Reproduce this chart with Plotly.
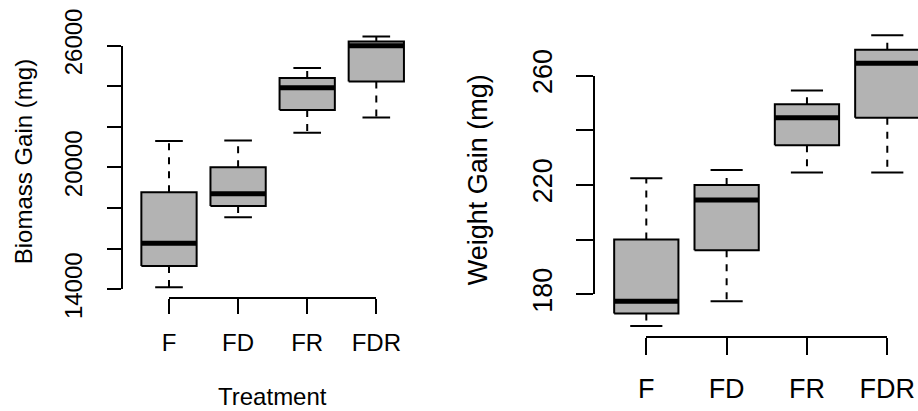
import plotly.graph_objects as go

# ---------------- data ----------------
categories = ["F", "FD", "FR", "FDR"]

biomass_lower = [14100, 17550, 21700, 22450]
biomass_q1 = [15150, 18100, 22830, 24230]
biomass_median = [16270, 18700, 23920, 25990]
biomass_q3 = [18780, 20010, 24400, 26200]
biomass_upper = [21300, 21330, 24890, 26440]

weight_lower = [168.4, 177.4, 224.5, 224.5]
weight_q1 = [172.9, 196.1, 234.5, 244.5]
weight_median = [177.4, 214.5, 244.5, 264.5]
weight_q3 = [200.0, 219.9, 249.5, 269.4]
weight_upper = [222.4, 225.4, 254.5, 274.7]

biomass_ticks = [14000, 16000, 18000, 20000, 22000, 24000, 26000]
biomass_tick_labels = ["14000", "", "", "20000", "", "", "26000"]
weight_ticks = [180, 200, 220, 240, 260]
weight_tick_labels = ["180", "", "220", "", "260"]

# ---------------- styling / geometry ----------------
W, H = 918, 411
FONT = "Liberation Sans, Arial, Helvetica, sans-serif"
BOX_FILL = "#B3B3B3"
BOX_W = 0.4   # half width of box
CAP_W = 0.2   # half width of whisker caps

panels = [
    dict(xa="x", ya="y", fx="x3", fy="y3", font=24,
         lower=biomass_lower, q1=biomass_q1, med=biomass_median, q3=biomass_q3, upper=biomass_upper,
         ticks=biomass_ticks, labels=biomass_tick_labels,
         cat0=169.0, step=69.1, left=122.3, right=423.0, top=26.5, bottom=298.0,
         lo_px=289.3, hi_px=45.5, ticklen_y=14, ticklen_x=15, standoff_y=16, standoff_x=8,
         ytitle="Biomass Gain (mg)", ytitle_x=23, xtitle="Treatment"),
    dict(xa="x2", ya="y2", fx="x4", fy="y4", font=27,
         lower=weight_lower, q1=weight_q1, med=weight_median, q3=weight_q3, upper=weight_upper,
         ticks=weight_ticks, labels=weight_tick_labels,
         cat0=646.3, step=80.33, left=593.5, right=918.0, top=23.7, bottom=337.0,
         lo_px=294.2, hi_px=75.5, ticklen_y=17, ticklen_x=17, standoff_y=13, standoff_x=11,
         ytitle="Weight Gain (mg)", ytitle_x=478, xtitle=None),
]

fig = go.Figure()
layout = dict(width=W, height=H, margin=dict(l=0, r=0, t=0, b=0, pad=0, autoexpand=False),
              paper_bgcolor="white", plot_bgcolor="rgba(0,0,0,0)",
              showlegend=False, font=dict(family=FONT, color="black"))
annotations = []

def axkey(name):
    return "xaxis" + name[1:] if name.startswith("x") else "yaxis" + name[1:]

for p in panels:
    n = len(categories)
    idx = list(range(n))
    # whiskers (dashed)
    wx, wy = [], []
    for i in idx:
        wx += [i, i, None, i, i, None]
        wy += [p["q3"][i], p["upper"][i], None, p["q1"][i], p["lower"][i], None]
    fig.add_trace(go.Scatter(x=wx, y=wy, mode="lines", xaxis=p["xa"], yaxis=p["ya"],
                             line=dict(color="black", width=2, dash="7px,7px"), hoverinfo="skip"))
    # caps
    cx, cy = [], []
    for i in idx:
        for v in (p["upper"][i], p["lower"][i]):
            cx += [i - CAP_W, i + CAP_W, None]
            cy += [v, v, None]
    fig.add_trace(go.Scatter(x=cx, y=cy, mode="lines", xaxis=p["xa"], yaxis=p["ya"],
                             line=dict(color="black", width=2), hoverinfo="skip"))
    # boxes
    for i in idx:
        fig.add_trace(go.Scatter(
            x=[i - BOX_W, i + BOX_W, i + BOX_W, i - BOX_W, i - BOX_W],
            y=[p["q1"][i], p["q1"][i], p["q3"][i], p["q3"][i], p["q1"][i]],
            mode="lines", fill="toself", fillcolor=BOX_FILL,
            xaxis=p["xa"], yaxis=p["ya"], line=dict(color="black", width=2), hoverinfo="skip"))
    # medians
    mx, my = [], []
    for i in idx:
        mx += [i - BOX_W, i + BOX_W, None]
        my += [p["med"][i], p["med"][i], None]
    fig.add_trace(go.Scatter(x=mx, y=my, mode="lines", xaxis=p["xa"], yaxis=p["ya"],
                             line=dict(color="black", width=5), hoverinfo="skip"))
    # dummy trace for the R-style detached axes
    fig.add_trace(go.Scatter(x=[None], y=[None], xaxis=p["fx"], yaxis=p["fy"], hoverinfo="skip"))

    # main (invisible) axes
    xr = [(p["left"] - p["cat0"]) / p["step"], (p["right"] - p["cat0"]) / p["step"]]
    tlo, thi = p["ticks"][0], p["ticks"][-1]
    s = (p["lo_px"] - p["hi_px"]) / (thi - tlo)
    yr = [tlo - (p["bottom"] - p["lo_px"]) / s, thi + (p["hi_px"] - p["top"]) / s]
    layout[axkey(p["xa"])] = dict(domain=[p["left"] / W, min(1.0, p["right"] / W)], range=xr,
                                  visible=False, fixedrange=True, automargin=False)
    layout[axkey(p["ya"])] = dict(domain=[1 - p["bottom"] / H, 1 - p["top"] / H], range=yr,
                                  visible=False, fixedrange=True, automargin=False)
    # visible axes spanning first to last tick
    layout[axkey(p["fx"])] = dict(
        domain=[p["cat0"] / W, (p["cat0"] + (n - 1) * p["step"]) / W], range=[0, n - 1],
        anchor="free", position=1 - p["bottom"] / H, automargin=False,
        tickvals=idx, ticktext=categories, ticks="outside", ticklen=p["ticklen_x"], tickwidth=2,
        tickcolor="black", showline=True, linewidth=2, linecolor="black",
        showgrid=False, zeroline=False, fixedrange=True,
        tickfont=dict(family=FONT, size=p["font"], color="black"), ticklabelstandoff=p["standoff_x"])
    layout[axkey(p["fy"])] = dict(
        domain=[1 - p["lo_px"] / H, 1 - p["hi_px"] / H], range=[tlo, thi],
        anchor="free", position=p["left"] / W, automargin=False,
        tickvals=p["ticks"], ticktext=p["labels"], ticks="outside", ticklen=p["ticklen_y"], tickwidth=2,
        tickcolor="black", showline=True, linewidth=2, linecolor="black", tickangle=-90,
        showgrid=False, zeroline=False, fixedrange=True,
        tickfont=dict(family=FONT, size=p["font"], color="black"), ticklabelstandoff=p["standoff_y"])

    annotations.append(dict(text=p["ytitle"], textangle=-90, xref="paper", yref="paper",
                            x=p["ytitle_x"] / W, y=1 - (p["top"] + p["bottom"]) / 2 / H,
                            xanchor="center", yanchor="middle", showarrow=False,
                            font=dict(family=FONT, size=p["font"], color="black")))
    if p["xtitle"]:
        annotations.append(dict(text=p["xtitle"], xref="paper", yref="paper",
                                x=(p["left"] + p["right"]) / 2 / W, y=0,
                                xanchor="center", yanchor="bottom", showarrow=False, borderpad=0,
                                font=dict(family=FONT, size=p["font"], color="black")))

layout["annotations"] = annotations
fig.update_layout(**layout)
fig.write_html("out.html", config={"displayModeBar": False},
               post_script="document.body.style.margin='0px';document.body.style.overflow='hidden';")
